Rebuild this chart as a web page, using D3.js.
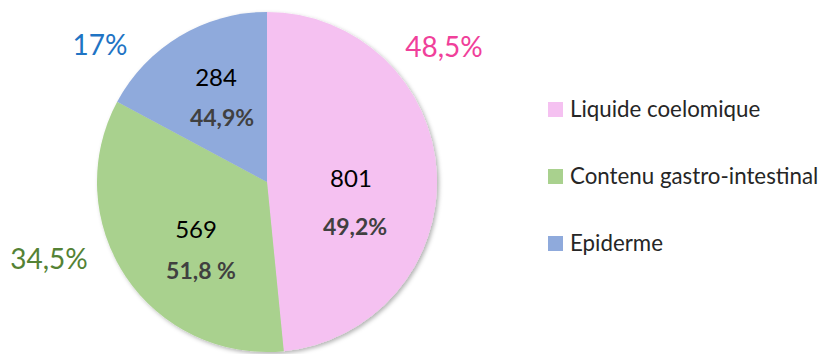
<!DOCTYPE html>
<html>
<head>
<meta charset="utf-8">
<script src="https://cdn.jsdelivr.net/npm/d3@7"></script>
<style>
  html, body { margin: 0; padding: 0; background: #fff; }
  svg { display: block; font-family: Lato, "Open Sans", sans-serif; }
</style>
</head>
<body>
<svg id="chart" width="822" height="354"></svg>
<script>
// Échantillons par origine
const categories = ["Liquide coelomique", "Contenu gastro-intestinal", "Epiderme"];
const counts = [801, 569, 284];
const shareLabels = ["48,5%", "34,5%", "17%"];
const innerPctLabels = ["49,2%", "51,8 %", "44,9%"];
const fills = ["#f5c1f1", "#a9d18e", "#8faadc"];
const shareColors = ["#f0409a", "#548235", "#1f74c4"];

const svg = d3.select("#chart");
const cx = 267, cy = 182, R = 170;

const defs = svg.append("defs");
const f = defs.append("filter").attr("id", "shadow")
  .attr("x", "-10%").attr("y", "-10%").attr("width", "120%").attr("height", "120%");
f.append("feDropShadow").attr("dx", 2).attr("dy", 2).attr("stdDeviation", 2)
  .attr("flood-color", "#000").attr("flood-opacity", 0.3);

const pie = d3.pie().sort(null).value(d => d);
const arcs = pie(counts);
const arc = d3.arc().innerRadius(0).outerRadius(R);

const g = svg.append("g").attr("transform", `translate(${cx},${cy})`);
g.append("g").attr("filter", "url(#shadow)")
  .selectAll("path").data(arcs).join("path")
  .attr("d", arc)
  .attr("fill", (d, i) => fills[i]);

// Labels inside slices: count + percentage
const countPos = [[84, 5], [-71, 56], [-51, -96]];
const pctPos = [[88, 53], [-66, 97], [-45, -56]];
arcs.forEach((d, i) => {
  g.append("text")
    .attr("x", countPos[i][0]).attr("y", countPos[i][1])
    .attr("text-anchor", "middle")
    .attr("font-size", 24).attr("fill", "#000")
    .text(d3.format("d")(d.value));
  g.append("text")
    .attr("x", pctPos[i][0]).attr("y", pctPos[i][1])
    .attr("text-anchor", "middle")
    .attr("font-size", 23).attr("font-weight", "bold").attr("fill", "#404040")
    .text(innerPctLabels[i]);
});

// Share labels outside the pie
const outerPos = [[444, 57], [49, 269], [100, 55]];
shareLabels.forEach((t, i) => {
  svg.append("text")
    .attr("x", outerPos[i][0]).attr("y", outerPos[i][1])
    .attr("text-anchor", "middle")
    .attr("font-size", 28).attr("fill", shareColors[i])
    .text(t);
});

// Legend
const legend = svg.append("g").attr("transform", "translate(548,102)");
const rows = legend.selectAll("g").data(categories).join("g")
  .attr("transform", (d, i) => `translate(0,${i * 67})`);
rows.append("rect").attr("width", 15).attr("height", 15)
  .attr("fill", (d, i) => fills[i]);
rows.append("text").attr("x", 22).attr("y", 15)
  .attr("font-size", 22.3).attr("fill", "#262626")
  .text(d => d);
</script>
</body>
</html>
